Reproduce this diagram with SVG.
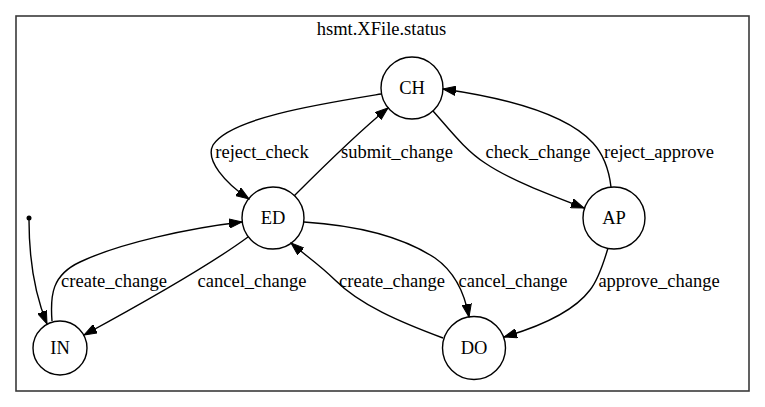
<svg xmlns="http://www.w3.org/2000/svg" width="765" height="407" viewBox="0 0 765 407">
<style>
text{font-family:"Liberation Serif","Times New Roman",serif;font-size:18.5px;fill:#000;text-anchor:middle}
.node circle{fill:none;stroke:#000;stroke-width:1.4}
.edge{fill:none;stroke:#000;stroke-width:1.4}
</style>
<defs>
<marker id="ah" markerUnits="userSpaceOnUse" markerWidth="14" markerHeight="10" refX="13" refY="5" orient="auto" viewBox="0 0 14 10">
<path d="M0,0.3 L13,5 L0,9.7 Z" fill="#000" stroke="#000" stroke-width="1"/>
</marker>
</defs>
<rect x="16" y="16" width="733" height="375" fill="#fff" stroke="#3a3a3a" stroke-width="1.6"/>
<text x="381.5" y="35">hsmt.XFile.status</text>
<g id="connectors">
<path class="edge" marker-end="url(#ah)" d="M29,220 C29,250 33,290 47,324"/>
<path class="edge" marker-end="url(#ah)" d="M52,321 C50,295 52,275 80,262 C120,243 190,228 242,222"/>
<path class="edge" marker-end="url(#ah)" d="M248,237 C210,265 130,310 84,335"/>
<path class="edge" marker-end="url(#ah)" d="M381,94 C320,104 230,118 213,145 C205,160 225,183 249,199"/>
<path class="edge" marker-end="url(#ah)" d="M294,196 C315,175 355,135 388,108"/>
<path class="edge" marker-end="url(#ah)" d="M433,111 C450,130 465,150 485,163 C510,180 550,195 584,208"/>
<path class="edge" marker-end="url(#ah)" d="M611,187 C609,170 604,155 593,143 C570,118 520,100 443,89"/>
<path class="edge" marker-end="url(#ah)" d="M608,248 C603,265 598,280 590,290 C575,310 545,325 504,337"/>
<path class="edge" marker-end="url(#ah)" d="M304,222 C350,225 400,235 435,258 C455,272 465,295 469,317"/>
<path class="edge" marker-end="url(#ah)" d="M443,338 C400,322 360,305 335,280 C320,265 305,255 291,243"/>
<text x="114" y="287">create_change</text>
<text x="252" y="287">cancel_change</text>
<text x="262" y="158">reject_check</text>
<text x="397" y="158">submit_change</text>
<text x="538" y="158">check_change</text>
<text x="659" y="158">reject_approve</text>
<text x="392" y="287">create_change</text>
<text x="513" y="287">cancel_change</text>
<text x="659" y="287">approve_change</text>
</g>
<g id="init"><circle cx="29" cy="218" r="2.5" fill="#000"/></g>
<g id="CH" class="node"><circle cx="412" cy="88" r="31"/><text x="412" y="94">CH</text></g>
<g id="ED" class="node"><circle cx="273" cy="218" r="31"/><text x="273" y="224">ED</text></g>
<g id="IN" class="node"><circle cx="60" cy="348" r="27"/><text x="60" y="354">IN</text></g>
<g id="AP" class="node"><circle cx="614" cy="218" r="31"/><text x="614" y="224">AP</text></g>
<g id="DO" class="node"><circle cx="474" cy="348" r="31.5"/><text x="474" y="354">DO</text></g>
</svg>
